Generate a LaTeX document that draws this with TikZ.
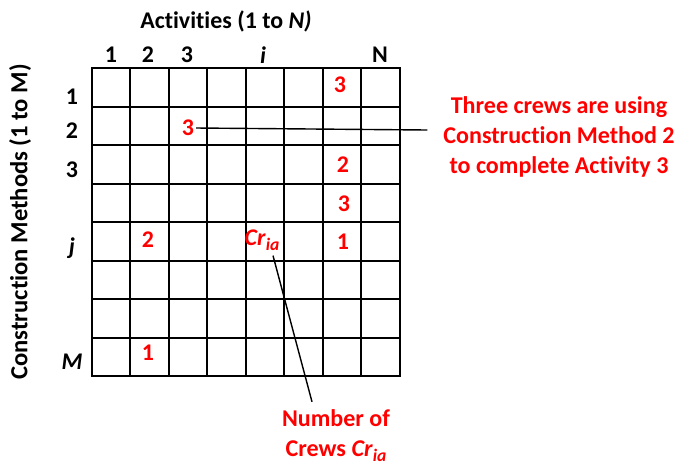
\documentclass[tikz,border=0pt]{standalone}
\usepackage{fontspec}
\setmainfont[Ligatures=NoCommon]{Carlito}
\usetikzlibrary{positioning,calc}
\newcommand{\crewsym}[1]{\textit{Cr}\raisebox{-0.45ex}{\fontsize{#1}{#1}\selectfont\textit{ia}}}
\tikzset{
  axis/.style={font=\fontsize{13.6}{16}\selectfont\bfseries, inner sep=1pt},
  entry/.style={axis, text=red},
  note/.style={font=\fontsize{13.7}{17}\selectfont\bfseries, text=red, align=center, inner sep=1pt},
  gridline/.style={line width=0.6pt},
  pointer/.style={line width=0.8pt},
}
\begin{document}
\begin{tikzpicture}[x=0.02cm, y=-0.02cm]
  \useasboundingbox (0,0) rectangle (678,464);
  % matrix of methods x activities
  \foreach \x in {130,169,207,246,284,323,361}
    \draw[gridline] (\x,68) -- (\x,376);
  \foreach \y in {107,145,184,222,261,299,338}
    \draw[gridline] (92,\y) -- (400,\y);
  \draw[line width=1.4pt] (92,68) rectangle (400,376);
  % axis titles
  \node[axis] (acttitle) at (226,21) {Activities (1 to \textit{N)}};
  \node[axis, rotate=90, font=\fontsize{14}{16}\selectfont\bfseries] (methtitle) at (20,222) {Construction Methods (1 to M)};
  % column and row labels
  \foreach \lab/\x/\n in {1/111/a, 2/148/b, 3/187/c, \textit{i}/263/i, N/380/n}
    \node[axis] (col-\n) at (\x,55) {\lab};
  \foreach \lab/\y/\n in {1/97/a, 2/131/b, 3/170/c, \textit{j}/248/j, \textit{M}/362/m}
    \node[axis] (row-\n) at (72,\y) {\lab};
  % crew counts
  \node[entry] (e17) at (340,85) {3};
  \node[entry] (e23) at (188,128) {3};
  \node[entry] (e37) at (343,165) {2};
  \node[entry] (e47) at (344,204) {3};
  \node[entry] (e57) at (343,242) {1};
  \node[entry] (e52) at (148,240) {2};
  \node[entry] (cr) at (262,240) {\crewsym{10}};
  \node[entry] (e82) at (148,353) {1};
  % callouts
  \node[note] (methnote) at (559,137) {Three crews are using\\Construction Method 2\\to complete Activity 3};
  \node[note] (crewnote) at (336,436) {Number of\\Crews \crewsym{10}};
  \draw[pointer] (e23.east) -- ($(methnote.west)+(-14,-7)$);
  \draw[pointer] ($(cr.south)+(11,3)$) -- ($(crewnote.north)+(-24,-6)$);
\end{tikzpicture}
\end{document}
